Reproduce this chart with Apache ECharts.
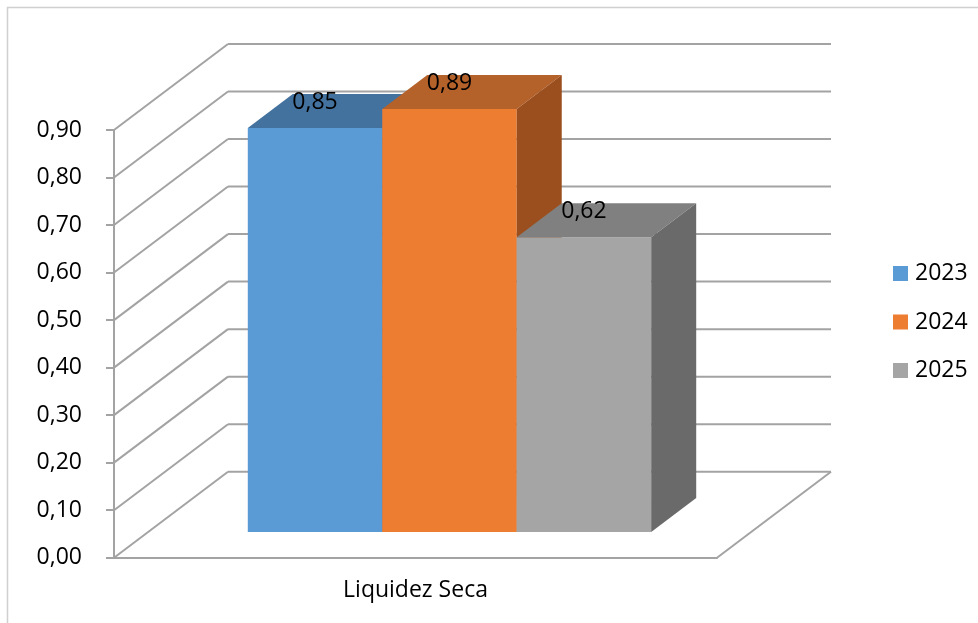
<!DOCTYPE html>
<html>
<head>
<meta charset="utf-8">
<title>Liquidez Seca</title>
<script src="https://cdn.jsdelivr.net/npm/echarts@6/dist/echarts.min.js"></script>
<style>
    html, body { margin: 0; padding: 0; background: #fff; }
    #chart { width: 978px; height: 623px; }
</style>
</head>
<body>
<div id="chart"></div>
<script>
// dados do gráfico
const categories = ["Liquidez Seca"];
const seriesNames = ["2023", "2024", "2025"];
const values2023 = [0.85];
const values2024 = [0.89];
const values2025 = [0.62];
const yTicks = [0, 0.1, 0.2, 0.3, 0.4, 0.5, 0.6, 0.7, 0.8, 0.9];

const seriesValues = [values2023, values2024, values2025];
// cores: frente, topo, lateral
const faceColors = [
    ["#5b9bd5", "#44729e", "#3b6590"],
    ["#ed7d31", "#b5612a", "#9b4f1e"],
    ["#a5a5a5", "#808080", "#6a6a6a"],
];

// profundidade da "caixa" 3D (pixels)
const DEPTH_X = 114, DEPTH_Y = 86;
// deslocamento da face frontal das barras
const FRONT_X = 34, FRONT_Y = 25.7;
// profundidade das barras
const BAR_DX = 45, BAR_DY = 34;
const GROUP_FRAC = 0.669;

const lineColor = "#a3a3a3";
const textColor = "#000";
const font = "Open Sans";

function fmt(v) {
    return v.toFixed(2).replace(".", ",");
}

// paredes: diagonais da parede lateral, linhas da parede de fundo e chão
function renderWalls(params, api) {
    const cs = params.coordSys;
    const y = api.coord([0, api.value(0)])[1];
    const children = [
        {
            type: "line",
            shape: { x1: cs.x, y1: y, x2: cs.x + DEPTH_X, y2: y - DEPTH_Y },
            style: { stroke: lineColor, lineWidth: 2 },
        },
        {
            type: "line",
            shape: { x1: cs.x + DEPTH_X, y1: y - DEPTH_Y, x2: cs.x + cs.width + DEPTH_X, y2: y - DEPTH_Y },
            style: { stroke: lineColor, lineWidth: 2 },
        },
    ];
    if (api.value(0) === 0) {
        children.push({
            type: "line",
            shape: { x1: cs.x + cs.width, y1: y, x2: cs.x + cs.width + DEPTH_X, y2: y - DEPTH_Y },
            style: { stroke: lineColor, lineWidth: 2 },
        });
    }
    return { type: "group", children: children };
}

function makeBarRenderer(idx) {
    const cols = faceColors[idx];
    return function (params, api) {
        const v = api.value(1);
        const top = api.coord([api.value(0), v]);
        const base = api.coord([api.value(0), 0]);
        const band = api.size([1, 0])[0];
        const groupW = band * GROUP_FRAC;
        const barW = groupW / seriesNames.length;
        const x0 = top[0] - groupW / 2 + idx * barW + FRONT_X;
        const x1 = x0 + barW;
        const yT = top[1] - FRONT_Y;
        const yB = base[1] - FRONT_Y;
        return {
            type: "group",
            children: [
                {
                    type: "rect",
                    shape: { x: x0, y: yT, width: barW, height: yB - yT },
                    style: { fill: cols[0] },
                },
                {
                    type: "polygon",
                    shape: { points: [[x0, yT], [x0 + BAR_DX, yT - BAR_DY], [x1 + BAR_DX, yT - BAR_DY], [x1, yT]] },
                    style: { fill: cols[1] },
                },
                {
                    type: "polygon",
                    shape: { points: [[x1, yT], [x1 + BAR_DX, yT - BAR_DY], [x1 + BAR_DX, yB - BAR_DY], [x1, yB]] },
                    style: { fill: cols[2] },
                },
                {
                    type: "text",
                    style: {
                        text: fmt(v),
                        x: (x0 + x1) / 2,
                        y: yT - 26,
                        align: "center",
                        verticalAlign: "middle",
                        fill: textColor,
                        font: "23px '" + font + "'",
                    },
                },
            ],
        };
    };
}

const chart = echarts.init(document.getElementById("chart"));

const barSeries = seriesNames.map(function (name, i) {
    return {
        name: name,
        type: "custom",
        coordinateSystem: "cartesian2d",
        renderItem: makeBarRenderer(i),
        encode: { x: 0, y: 1 },
        data: seriesValues[i].map(function (v, k) { return [k, v]; }),
        itemStyle: { color: faceColors[i][0] },
        z: 3,
        silent: true,
    };
});

chart.setOption({
    animation: false,
    textStyle: { fontFamily: font },
    graphic: [
        {
            type: "rect",
            shape: { x: 7.5, y: 7.5, width: 1000, height: 1000 },
            style: { fill: "none", stroke: "#d0d0d0", lineWidth: 1.5 },
            z: 0,
        },
    ],
    grid: {
        left: 114,
        right: 261,
        top: 130,
        bottom: 65.3,
    },
    legend: {
        orient: "vertical",
        left: 888,
        top: 257,
        itemWidth: 15,
        itemHeight: 15,
        itemGap: 25.5,
        icon: "rect",
        data: seriesNames,
        textStyle: {
            fontFamily: font,
            fontSize: 23,
            lineHeight: 23,
            color: textColor,
            padding: [0, 0, 0, 2],
        },
    },
    xAxis: {
        type: "category",
        data: categories,
        axisLine: { lineStyle: { color: lineColor, width: 2 } },
        axisTick: { length: 9, lineStyle: { color: lineColor, width: 2 } },
        axisLabel: {
            margin: 21,
            fontSize: 23,
            color: textColor,
            fontFamily: font,
        },
        splitLine: { show: false },
    },
    yAxis: {
        type: "value",
        min: 0,
        max: 0.9,
        interval: 0.1,
        axisLine: { show: true, lineStyle: { color: lineColor, width: 2 } },
        axisTick: { show: true, length: 8, lineStyle: { color: lineColor, width: 2 } },
        axisLabel: {
            margin: 32,
            fontSize: 23,
            color: textColor,
            fontFamily: font,
            formatter: function (v) { return fmt(v); },
        },
        splitLine: { show: false },
    },
    series: [
        {
            name: "paredes",
            type: "custom",
            coordinateSystem: "cartesian2d",
            renderItem: renderWalls,
            encode: { y: 0 },
            data: yTicks.map(function (t) { return [t]; }),
            z: 1,
            silent: true,
        },
    ].concat(barSeries),
});
</script>
</body>
</html>
